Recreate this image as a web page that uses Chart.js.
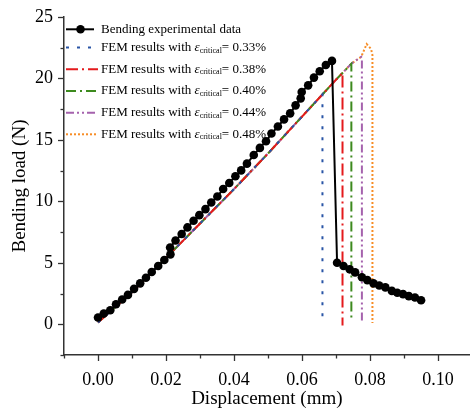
<!DOCTYPE html>
<html>
<head>
<meta charset="utf-8">
<script src="https://cdn.jsdelivr.net/npm/chart.js@4.4.1/dist/chart.umd.min.js"></script>
<style>
  body { margin: 0; background: #fff; }
  #wrap { width: 474px; height: 410px; }
</style>
</head>
<body>
<div id="wrap"><canvas id="myChart" width="474" height="410"></canvas></div>
<script>
'use strict';
// experimental curve
let expX = [0, 0.0017, 0.0036, 0.0053, 0.0071, 0.0088, 0.0106, 0.0124, 0.0141, 0.0158,
  0.0177, 0.0195, 0.0213, 0.0212, 0.0228, 0.0246, 0.0263, 0.0281, 0.0298, 0.0316,
  0.0333, 0.0351, 0.0368, 0.0386, 0.0404, 0.0421, 0.0438, 0.0458, 0.0476, 0.0494,
  0.0510, 0.0529, 0.0547, 0.0565, 0.0581, 0.0596, 0.0599, 0.0618, 0.0635, 0.0652,
  0.0670, 0.0688, 0.0703, 0.0722, 0.0740, 0.0756, 0.0776, 0.0792, 0.0810, 0.0827,
  0.0845, 0.0864, 0.0880, 0.0897, 0.0914, 0.0932, 0.0950];
let expY = [0.55, 0.87, 1.14, 1.63, 2.02, 2.39, 2.88, 3.33, 3.78, 4.25,
  4.74, 5.23, 5.69, 6.25, 6.81, 7.34, 7.88, 8.42, 8.88, 9.37,
  9.91, 10.40, 11.00, 11.50, 12.04, 12.52, 13.07, 13.77, 14.35, 14.89,
  15.52, 16.09, 16.67, 17.16, 17.81, 18.38, 18.90, 19.44, 20.07, 20.59,
  21.10, 21.43, 5.01, 4.74, 4.47, 4.22, 3.82, 3.59, 3.33, 3.16,
  3.00, 2.72, 2.56, 2.45, 2.29, 2.18, 1.96];

// FEM curves
let fem033X = [0, 0.01, 0.02, 0.03, 0.04, 0.05, 0.06, 0.066, 0.066];
let fem033Y = [0.15, 2.6, 5.4, 8.2, 11.0, 13.9, 16.9, 18.7, 0.0];
let fem038X = [0, 0.01, 0.02, 0.03, 0.04, 0.05, 0.06, 0.07, 0.0719, 0.0719];
let fem038Y = [0.15, 2.6, 5.4, 8.2, 11.0, 13.9, 16.9, 19.9, 20.45, -0.1];
let fem040X = [0, 0.01, 0.02, 0.03, 0.04, 0.05, 0.06, 0.07, 0.0745, 0.0745];
let fem040Y = [0.15, 2.6, 5.4, 8.2, 11.0, 13.9, 16.9, 19.9, 21.2, 0.3];
let fem044X = [0, 0.01, 0.02, 0.03, 0.04, 0.05, 0.06, 0.07, 0.0745, 0.0774, 0.0776, 0.0776];
let fem044Y = [0.15, 2.6, 5.4, 8.2, 11.0, 13.9, 16.9, 19.9, 21.2, 21.76, 21.5, 0.3];
let fem048X = [0, 0.01, 0.02, 0.03, 0.04, 0.05, 0.06, 0.07, 0.0745, 0.0774, 0.079, 0.0803, 0.0807, 0.0807];
let fem048Y = [0.15, 2.6, 5.4, 8.2, 11.0, 13.9, 16.9, 19.9, 21.2, 21.76, 22.8, 22.4, 21.9, 0.1];

let seriesNames = ['Bending experimental data', '0.33%', '0.38%', '0.40%', '0.44%', '0.48%'];
let seriesColors = ['#000000', '#2a55a6', '#e41a1c', '#3d8a1e', '#a562ad', '#f78d26'];
let seriesDash = [[], [3, 8], [12, 4, 2, 4], [10, 4, 2, 4], [8, 3, 2, 3, 2, 3], [2, 2]];

let xMin = -0.01, xMax = 0.1093;
let yMin = -2.5, yMax = 25;

function pts(xs, ys) {
  let out = [];
  for (let i = 0; i < xs.length; i++) out.push({x: xs[i], y: ys[i]});
  return out;
}

let serif = '"Liberation Serif", "DejaVu Serif", serif';

function femSet(i, xs, ys) {
  return {
    label: 'FEM results with εcritical= ' + seriesNames[i],
    data: pts(xs, ys),
    borderColor: seriesColors[i],
    borderWidth: 2,
    borderDash: seriesDash[i],
    pointRadius: 0,
    fill: false,
    tension: 0
  };
}

// minor/major tick marks + custom legend
let decor = {
  id: 'decor',
  afterDraw(chart) {
    let ctx = chart.ctx;
    let xs = chart.scales.x, ys = chart.scales.y;
    let area = chart.chartArea;
    ctx.save();
    ctx.strokeStyle = '#333';
    ctx.lineWidth = 1.3;
    for (let v = -0.01; v <= 0.1001; v += 0.01) {
      let px = Math.round(xs.getPixelForValue(v)) + 0.5;
      let major = Math.abs(Math.round(v * 100) % 2) === 0;
      ctx.beginPath();
      ctx.moveTo(px, area.bottom);
      ctx.lineTo(px, area.bottom + (major ? 6 : 3.5));
      ctx.stroke();
    }
    for (let v = -2.5; v <= 25.001; v += 2.5) {
      let py = Math.round(ys.getPixelForValue(v)) + 0.5;
      let major = Math.abs(v % 5) < 0.001;
      ctx.beginPath();
      ctx.moveTo(area.left, py);
      ctx.lineTo(area.left - (major ? 6 : 3.5), py);
      ctx.stroke();
    }

    // legend
    let rows = [29.3, 47.5, 69.3, 91, 112.7, 134.3];
    ctx.textBaseline = 'middle';
    for (let i = 0; i < rows.length; i++) {
      let y = rows[i];
      ctx.strokeStyle = seriesColors[i];
      ctx.lineWidth = 2;
      ctx.setLineDash(seriesDash[i]);
      ctx.beginPath();
      ctx.moveTo(66, y);
      ctx.lineTo(i === 0 ? 94 : 98, y);
      ctx.stroke();
      ctx.setLineDash([]);
      if (i === 0) {
        ctx.fillStyle = '#000';
        ctx.beginPath();
        ctx.arc(80.5, y, 4.3, 0, Math.PI * 2);
        ctx.fill();
      }
      ctx.fillStyle = '#000';
      let tx = 101;
      if (i === 0) {
        ctx.font = '13px ' + serif;
        ctx.fillText(seriesNames[0], tx, y);
      } else {
        ctx.font = '13px ' + serif;
        let a = 'FEM results with ';
        ctx.fillText(a, tx, y);
        tx += ctx.measureText(a).width;
        ctx.font = 'italic 13px ' + serif;
        ctx.fillText('ε', tx, y);
        tx += ctx.measureText('ε').width;
        ctx.font = '8px ' + serif;
        ctx.fillText('critical', tx, y + 3);
        tx += ctx.measureText('critical').width;
        ctx.font = '13px ' + serif;
        ctx.fillText('= ' + seriesNames[i], tx, y);
      }
    }
    ctx.restore();
  }
};

let ctx = document.getElementById('myChart').getContext('2d');
let chart = new Chart(ctx, {
  type: 'line',
  data: {
    datasets: [
      {
        label: seriesNames[0],
        data: pts(expX, expY),
        borderColor: '#000',
        backgroundColor: '#000',
        borderWidth: 2,
        pointRadius: 4.3,
        pointBorderWidth: 0,
        pointBackgroundColor: '#000',
        fill: false,
        tension: 0
      },
      femSet(1, fem033X, fem033Y),
      femSet(2, fem038X, fem038Y),
      femSet(3, fem040X, fem040Y),
      femSet(4, fem044X, fem044Y),
      femSet(5, fem048X, fem048Y)
    ]
  },
  options: {
    responsive: false,
    animation: false,
    layout: { padding: { top: 17, right: 0, left: 0, bottom: 0 } },
    plugins: {
      legend: { display: false },
      tooltip: { enabled: false }
    },
    scales: {
      x: {
        type: 'linear',
        min: xMin,
        max: xMax,
        afterFit(scale) { scale.height = 55; },
        border: { display: true, color: '#333', width: 1.5 },
        grid: { display: false },
        ticks: {
          stepSize: 0.02,
          includeBounds: false,
          padding: 6,
          color: '#000',
          font: { family: serif, size: 18 },
          maxRotation: 0,
          callback: (v) => v.toFixed(2)
        },
        title: {
          display: true,
          text: 'Displacement (mm)',
          color: '#000',
          font: { family: serif, size: 19 },
          padding: { top: 0, bottom: 0 }
        }
      },
      y: {
        type: 'linear',
        min: yMin,
        max: yMax,
        afterFit(scale) { scale.width = 64; },
        border: { display: true, color: '#333', width: 1.5 },
        grid: { display: false },
        ticks: {
          stepSize: 5,
          includeBounds: false,
          padding: 3,
          color: '#000',
          font: { family: serif, size: 18 }
        },
        title: {
          display: true,
          text: 'Bending load (N)',
          color: '#000',
          font: { family: serif, size: 19 },
          padding: { top: 9, bottom: 0 }
        }
      }
    }
  },
  plugins: [decor]
});
</script>
</body>
</html>
